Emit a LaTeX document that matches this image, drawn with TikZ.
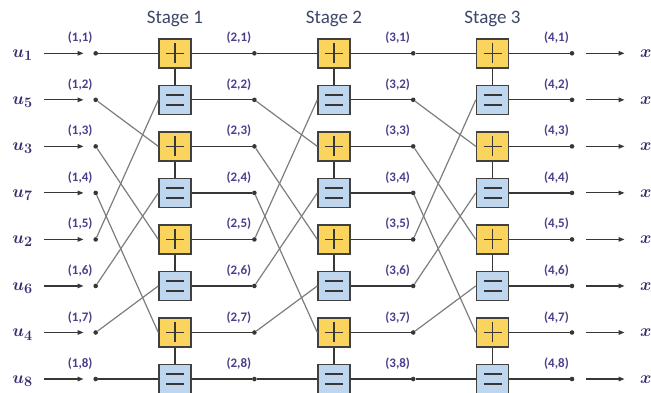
\documentclass[tikz,border=0pt]{standalone}
\usepackage{amsmath}
\usepackage{fontspec}
\newfontfamily\carl{Carlito}
\usetikzlibrary{arrows.meta}
\definecolor{plusfill}{RGB}{250,212,92}
\definecolor{eqfill}{RGB}{190,214,238}
\definecolor{boxdraw}{RGB}{64,64,64}
\definecolor{wire}{RGB}{55,55,55}
\definecolor{diag}{RGB}{125,125,125}
\definecolor{stagetxt}{RGB}{60,70,105}
\definecolor{idxtxt}{RGB}{75,62,140}
\definecolor{vartxt}{RGB}{55,45,110}
\begin{document}
\begin{tikzpicture}[x=1pt,y=-1pt,
  basebox/.style={draw=boxdraw,line width=1.4pt,minimum width=32pt,minimum height=29pt,inner sep=0pt},
  plusbox/.style={basebox,fill=plusfill,
    path picture={\draw[line width=1.5pt,wire]
      ([xshift=-9pt]path picture bounding box.center) -- ([xshift=9pt]path picture bounding box.center)
      ([yshift=-10pt]path picture bounding box.center) -- ([yshift=10pt]path picture bounding box.center);}},
  eqbox/.style={basebox,fill=eqfill,
    path picture={\draw[line width=1.5pt,wire]
      ([xshift=-9pt,yshift=-5pt]path picture bounding box.center) -- ([xshift=9pt,yshift=-5pt]path picture bounding box.center)
      ([xshift=-9pt,yshift=5pt]path picture bounding box.center) -- ([xshift=9pt,yshift=5pt]path picture bounding box.center);}},
  dotn/.style={circle,fill=wire,inner sep=0pt,minimum size=4.6pt},
  hwire/.style={draw=wire,line width=1.3pt},
  dwire/.style={draw=diag,line width=1.2pt},
  arr/.style={draw=wire,line width=1.2pt,-{Triangle[length=6pt,width=4.6pt]}},
  stagelbl/.style={font=\carl\fontsize{19}{21}\selectfont,text=stagetxt,anchor=base},
  idxlbl/.style={font=\carl\bfseries\fontsize{13}{15}\selectfont,text=idxtxt},
  varlbl/.style={font=\fontsize{19}{21}\selectfont,text=vartxt,anchor=base}
]
\useasboundingbox (0,0) rectangle (651,392);

% stage titles
\node[stagelbl] (st1) at (175,23.3) {Stage 1};
\node[stagelbl] (st2) at (334,23.3) {Stage 2};
\node[stagelbl] (st3) at (492.5,23.3) {Stage 3};

% dots and labels
\foreach \s/\dx in {1/95.7,2/254.4,3/413.2,4/572.0}{
  \foreach \k in {1,...,8}{
    \pgfmathsetmacro\yy{53.3+46.53*(\k-1)}
    \node[dotn] (d\s-\k) at (\dx,\yy) {};
    \node[idxlbl] (l\s-\k) at (\dx-15.5,\yy-15.3) {(\s,\k)};
  }
}

% boxes
\foreach \s/\bx in {1/175,2/334,3/492.5}{
  \foreach \i in {1,...,4}{
    \pgfmathsetmacro\ya{53.3+46.53*(2*\i-2)}
    \pgfmathsetmacro\yb{53.3+46.53*(2*\i-1)}
    \pgfmathtruncatemacro\ka{2*\i-1}
    \pgfmathtruncatemacro\kb{2*\i}
    \node[plusbox] (b\s-\ka) at (\bx,\ya) {};
    \node[eqbox] (b\s-\kb) at (\bx,\yb) {};
    \draw[hwire] (b\s-\ka.south) -- (b\s-\kb.north);
  }
}

% wiring
\foreach \s in {1,2,3}{
  \pgfmathtruncatemacro\sn{\s+1}
  \foreach \k in {1,...,8}{
    \pgfmathtruncatemacro\t{\k<=4 ? 2*\k-1 : 2*(\k-4)}
    \ifnum\t=\k
      \draw[hwire] (d\s-\k) -- (b\s-\t.west);
    \else
      \draw[dwire] (d\s-\k) -- (b\s-\t.west);
    \fi
    \draw[hwire] (b\s-\k.east) -- (d\sn-\k);
  }
}

% inputs and outputs
\foreach \k/\u in {1/1,2/5,3/3,4/7,5/2,6/6,7/4,8/8}{
  \pgfmathsetmacro\yy{53.3+46.53*(\k-1)}
  \node[varlbl] (u\k) at (22.5,\yy+4.2) {$\boldsymbol{u}_{\boldsymbol{\u}}$};
  \coordinate (is\k) at (44,\yy);
  \coordinate (ie\k) at (83.5,\yy);
  \draw[arr] (is\k) -- (ie\k);
  \coordinate (os\k) at (586,\yy);
  \coordinate (oe\k) at (624.5,\yy);
  \draw[arr] (os\k) -- (oe\k);
  \node[varlbl,anchor=base west,inner sep=0pt] (x\k) at (640,\yy+4.2) {$\boldsymbol{x}_{\boldsymbol{\k}}$};
}
\end{tikzpicture}
\end{document}
